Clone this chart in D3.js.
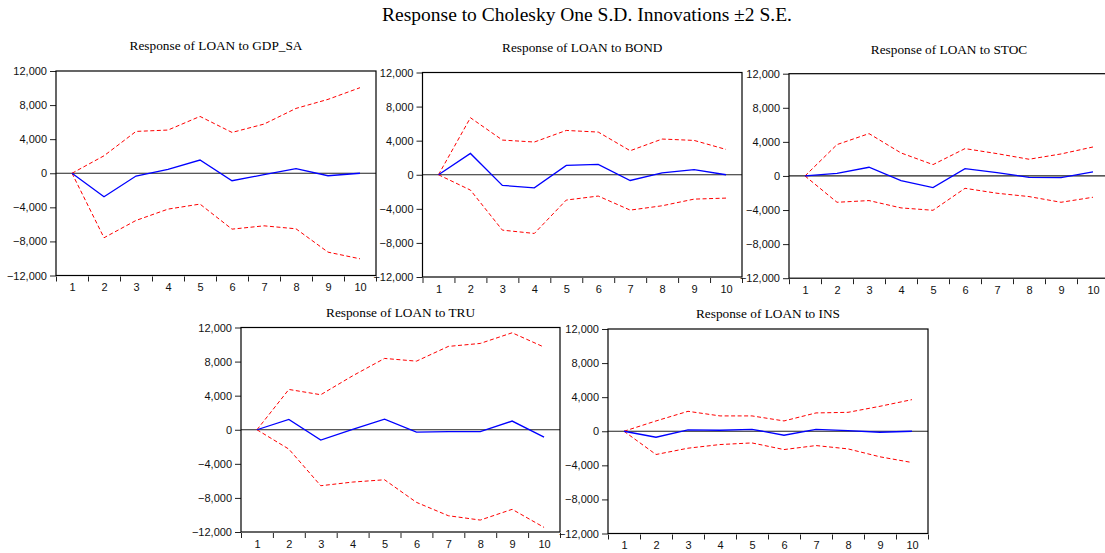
<!DOCTYPE html>
<html>
<head>
<meta charset="utf-8">
<script src="https://cdn.jsdelivr.net/npm/d3@7"></script>
<style>
  body { margin: 0; background: #fff; }
  svg { display: block; }
</style>
</head>
<body>
<div id="chart"></div>
<script>
// Data
var periods = [1, 2, 3, 4, 5, 6, 7, 8, 9, 10];
var yTicks = [-12000, -8000, -4000, 0, 4000, 8000, 12000];
var shocks = ["GDP_SA", "BOND", "STOC", "TRU", "INS"];

var respGdp = [0, -2760, -330, 450, 1550, -880, -170, 530, -290, 0];
var upGdp   = [0, 2050, 4910, 5070, 6670, 4790, 5770, 7610, 8670, 10040];
var loGdp   = [0, -7570, -5540, -4210, -3620, -6560, -6170, -6520, -9260, -10040];

var respBond = [0, 2500, -1250, -1530, 1100, 1210, -670, 230, 590, 0];
var upBond   = [0, 6690, 4070, 3840, 5200, 5010, 2820, 4190, 4030, 2970];
var loBond   = [0, -1800, -6500, -6890, -2970, -2500, -4150, -3640, -2860, -2740];

var respStoc = [0, 310, 1020, -550, -1370, 860, 390, -160, -200, 470];
var upStoc   = [0, 3680, 4970, 2700, 1330, 3210, 2620, 1960, 2580, 3400];
var loStoc   = [0, -3090, -2890, -3750, -4030, -1450, -2030, -2420, -3090, -2500];

var respTru = [0, 1210, -1210, 40, 1250, -270, -230, -230, 1020, -860];
var upTru   = [0, 4730, 4110, 6330, 8370, 8050, 9780, 10130, 11380, 9700];
var loTru   = [0, -2270, -6570, -6140, -5870, -8520, -10090, -10600, -9340, -11460];

var respIns = [0, -700, 160, 120, 230, -470, 230, 80, -120, 0];
var upIns   = [0, 1210, 2340, 1800, 1800, 1210, 2150, 2220, 2930, 3710];
var loIns   = [0, -2730, -1990, -1560, -1370, -2150, -1680, -2070, -3000, -3670];

var responses = [respGdp, respBond, respStoc, respTru, respIns];
var uppers = [upGdp, upBond, upStoc, upTru, upIns];
var lowers = [loGdp, loBond, loStoc, loTru, loIns];

// Panel boxes (pixels)
var layout = [
  {left: 56,  top: 71,    w: 320, h: 204.5, titleY: 50},
  {left: 422.5, top: 72.5, w: 319.5, h: 204.5, titleY: 51.5},
  {left: 789, top: 73.7,  w: 320, h: 204.5, titleY: 54},
  {left: 241, top: 327.5, w: 319, h: 204.5, titleY: 316.5},
  {left: 608, top: 329,   w: 320, h: 204.5, titleY: 318}
];

var W = 1105, H = 553;

var svg = d3.select("#chart")
  .append("svg")
    .attr("width", W)
    .attr("height", H);

// Main title
svg.append("text")
  .attr("x", 587)
  .attr("y", 21)
  .attr("text-anchor", "middle")
  .style("font-family", "'Liberation Serif', 'Times New Roman', serif")
  .style("font-size", "19.5px")
  .text("Response to Cholesky One S.D. Innovations \u00b12 S.E.");

shocks.forEach(function(name, i) {
  var p = layout[i];
  var g = svg.append("g")
    .attr("transform", "translate(" + p.left + "," + p.top + ")");

  var x = d3.scaleLinear()
    .domain([0.5, 10.5])
    .range([0, p.w]);

  var y = d3.scaleLinear()
    .domain([-12000, 12000])
    .range([p.h, 0]);

  // Panel title
  svg.append("text")
    .attr("x", p.left + p.w / 2)
    .attr("y", p.titleY)
    .attr("text-anchor", "middle")
    .style("font-family", "'Liberation Serif', 'Times New Roman', serif")
    .style("font-size", "13.3px")
    .text("Response of LOAN to " + name);

  // white box
  g.append("rect")
    .attr("width", p.w)
    .attr("height", p.h)
    .attr("fill", "#fff");

  // Y axis
  var yAxis = g.append("g")
    .call(d3.axisLeft(y).tickValues(yTicks).tickFormat(d3.format(",")).tickSize(6).tickPadding(3));
  yAxis.select(".domain").remove();

  // X axis: ticks at period boundaries, labels at centres
  var xTickAxis = g.append("g")
    .attr("transform", "translate(0," + (p.h + 1) + ")")
    .call(d3.axisBottom(x).tickValues(d3.range(0.5, 11, 1)).tickFormat("").tickSize(5));
  xTickAxis.select(".domain").remove();

  var xLabAxis = g.append("g")
    .attr("transform", "translate(0," + p.h + ")")
    .call(d3.axisBottom(x).tickValues(periods).tickFormat(d3.format("d")).tickSize(0).tickPadding(8));
  xLabAxis.select(".domain").remove();

  g.selectAll(".tick text")
    .style("font-family", "'Liberation Sans', Arial, sans-serif")
    .style("font-size", "11px")
    .attr("fill", "#111");
  g.selectAll(".tick line").attr("stroke", "#222");

  // zero line
  g.append("line")
    .attr("x1", 0).attr("x2", p.w)
    .attr("y1", y(0)).attr("y2", y(0))
    .attr("stroke", "#222")
    .attr("stroke-width", 1.2);

  var line = d3.line()
    .x(function(d, j) { return x(periods[j]); })
    .y(function(d) { return y(d); });

  // bands
  [uppers[i], lowers[i]].forEach(function(band) {
    g.append("path")
      .datum(band)
      .attr("fill", "none")
      .attr("stroke", "#ff0000")
      .attr("stroke-width", 1)
      .attr("stroke-dasharray", "4,2.5")
      .attr("d", line);
  });

  // response
  g.append("path")
    .datum(responses[i])
    .attr("fill", "none")
    .attr("stroke", "#0000ff")
    .attr("stroke-width", 1.3)
    .attr("d", line);

  // frame
  g.append("rect")
    .attr("width", p.w)
    .attr("height", p.h)
    .attr("fill", "none")
    .attr("stroke", "#000")
    .attr("stroke-width", 1.2);
});
</script>
</body>
</html>
